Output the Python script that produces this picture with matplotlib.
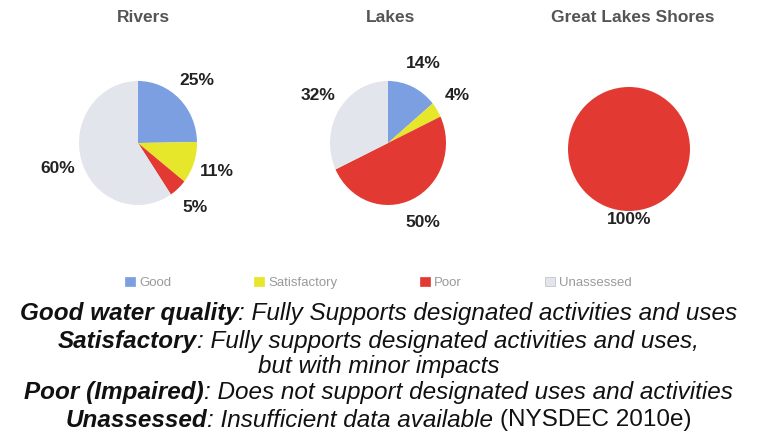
import matplotlib
matplotlib.use('Agg')
import matplotlib.pyplot as plt
from matplotlib.patches import Patch

plt.rcParams['font.family'] = ['Liberation Sans', 'DejaVu Sans']

# data
categories = ['Good', 'Satisfactory', 'Poor', 'Unassessed']
colors = ['#7b9fe0', '#e6e62a', '#e23a33', '#e3e5ed']

titles = ['Rivers', 'Lakes', 'Great Lakes Shores']
rivers = [25, 11, 5, 60]
lakes = [14, 4, 50, 32]
shores = [0, 0, 100, 0]
series = [rivers, lakes, shores]

notes = [
    [('Good water quality', 'bold'), (': Fully Supports designated activities and uses', 'normal')],
    [('Satisfactory', 'bold'), (': Fully supports designated activities and uses,', 'normal')],
    [('but with minor impacts', 'normal')],
    [('Poor (Impaired)', 'bold'), (': Does not support designated uses and activities', 'normal')],
    [('Unassessed', 'bold'), (': Insufficient data available ', 'normal'), ('(NYSDEC 2010e)', 'upright')],
]

W, H = 757, 444
fig = plt.figure(figsize=(W / 100, H / 100), dpi=100)
fig.patch.set_facecolor('white')

# pie boxes in pixels: center x, center y (from top), half width, half height
boxes = [(138, 143, 59, 62), (388, 143, 58, 62), (629, 149, 61, 62)]
label_dist = [1.42, 1.42, 1.14]
title_x = [143, 391, 633]

for vals, title, (cx, cy, rx, ry), ld, tx in zip(series, titles, boxes, label_dist, title_x):
    ax = fig.add_axes([(cx - rx) / W, 1 - (cy + ry) / H, 2 * rx / W, 2 * ry / H])
    keep = [i for i, v in enumerate(vals) if v > 0]
    wedges, texts = ax.pie([vals[i] for i in keep],
                           colors=[colors[i] for i in keep],
                           labels=['%d%%' % vals[i] for i in keep],
                           startangle=90, counterclock=False,
                           labeldistance=ld,
                           wedgeprops=dict(linewidth=0),
                           textprops=dict(fontsize=12.5, fontweight='bold', color='#222222'))
    for t in texts:
        t.set_ha('center')
        t.set_va('center')
    ax.set_aspect('auto')
    ax.set_xlim(-1, 1)
    ax.set_ylim(-1, 1)
    fig.text(tx / W, 1 - 18 / H, title, ha='center', va='center',
             fontsize=12.5, fontweight='bold', color='#555555')

handles = [Patch(facecolor=c, edgecolor='#bbbbbb' if i == 3 else c, linewidth=0.5)
           for i, c in enumerate(colors)]
fig.legend(handles, categories, loc='center', bbox_to_anchor=(0.5, 1 - 283 / H),
           ncol=4, frameon=False, fontsize=9.5, handlelength=0.75, handleheight=0.75,
           handletextpad=0.3, columnspacing=6.3, labelcolor='#9a9a9a')

# description lines, bold italic head + italic rest, centred as a whole
fig.canvas.draw()
r = fig.canvas.get_renderer()
line_y = [313, 341, 366, 392, 420]
size = 17.5
for parts, y in zip(notes, line_y):
    txts = []
    for s, kind in parts:
        t = fig.text(0, 1 - y / H, s, fontsize=size, va='center', ha='left', color='#111111',
                     fontweight='bold' if kind == 'bold' else 'normal',
                     style='normal' if kind == 'upright' else 'italic')
        txts.append(t)
    widths = [t.get_window_extent(r).width for t in txts]
    x = (W - sum(widths)) / 2
    for t, w in zip(txts, widths):
        t.set_x(x / W)
        x += w

fig.savefig('out.png', dpi=100, facecolor='white')
